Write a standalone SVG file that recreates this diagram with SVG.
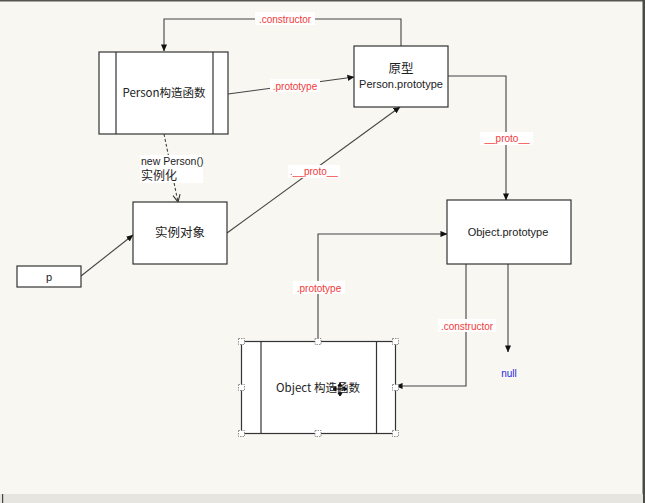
<svg xmlns="http://www.w3.org/2000/svg" width="645" height="503" viewBox="0 0 645 503">
  <defs>
    <marker id="arrow" viewBox="0 0 8 8" refX="7.5" refY="4" markerWidth="7" markerHeight="7" orient="auto" markerUnits="userSpaceOnUse">
      <path d="M0,0.5 L8,4 L0,7.5 Z" fill="#111"/>
    </marker>
    <marker id="openArrow" viewBox="0 0 10 10" refX="9" refY="5" markerWidth="9" markerHeight="9" orient="auto" markerUnits="userSpaceOnUse">
      <path d="M1,1 L9,5 L1,9" fill="none" stroke="#333" stroke-width="1.2"/>
    </marker>
  </defs>
  <style>
    .box { fill: #ffffff; stroke: #333333; stroke-width: 1.2; }
    .bar { stroke: #333333; stroke-width: 1.2; }
    .txt { font-family: "Liberation Sans", "Noto Sans CJK SC", sans-serif; font-size: 11px; fill: #222222; text-anchor: middle; }
    .cjk { font-family: "Noto Sans CJK SC", "Liberation Sans", sans-serif; font-size: 12px; fill: #222222; text-anchor: middle; }
    .lbl { font-family: "Liberation Sans", "Noto Sans CJK SC", sans-serif; font-size: 10px; fill: #f03a3a; text-anchor: middle; }
    .lblbg { fill: #ffffff; }
    .edge { fill: none; stroke: #444444; stroke-width: 1.1; }
    .handle { fill: #ffffff; stroke: #777777; stroke-width: 0.8; stroke-dasharray: 1.5 1; }
  </style>

  <!-- canvas and window frame -->
  <rect x="0" y="0" width="645" height="503" fill="#f8f7f2"/>
  <rect x="0" y="0" width="645" height="1.5" fill="#55574f"/>
  <rect x="642.5" y="0" width="2.5" height="503" fill="#4a4c46"/>
  <rect x="0" y="494" width="643" height="9" fill="#e6e5df"/>
  <rect x="2" y="494" width="1.2" height="9" fill="#444"/>

  <!-- connectors -->
  <g id="connectors">
    <!-- .constructor : prototype -> Person -->
    <path class="edge" d="M401,46 V19 H164 V51" marker-end="url(#arrow)"/>
    <!-- .prototype : Person -> prototype -->
    <path class="edge" d="M228,94 L354,77" marker-end="url(#arrow)"/>
    <!-- new Person() : Person -> instance (dashed) -->
    <path class="edge" d="M164,134 L178,202" stroke-dasharray="3 2" marker-end="url(#openArrow)"/>
    <!-- p -> instance -->
    <path class="edge" d="M81,276 L133,235" marker-end="url(#arrow)"/>
    <!-- __proto__ : instance -> prototype -->
    <path class="edge" d="M227,233 L400,107" marker-end="url(#arrow)"/>
    <!-- __proto__ : prototype -> Object.prototype -->
    <path class="edge" d="M448,76 H506 V200" marker-end="url(#arrow)"/>
    <!-- .prototype : Object ctor -> Object.prototype -->
    <path class="edge" d="M318,341 V234 H447" marker-end="url(#arrow)"/>
    <!-- .constructor : Object.prototype -> Object ctor -->
    <path class="edge" d="M466,264 V386 H396" marker-end="url(#arrow)"/>
    <!-- Object.prototype -> null -->
    <path class="edge" d="M508,264 V352" marker-end="url(#arrow)"/>

    <!-- labels -->
    <rect class="lblbg" x="255" y="12" width="60" height="13"/>
    <text class="lbl" x="285" y="22.5">.constructor</text>
    <rect class="lblbg" x="270" y="79" width="50" height="13"/>
    <text class="lbl" x="295" y="89.5">.prototype</text>
    <rect class="lblbg" x="140" y="155" width="63" height="28"/>
    <text class="txt" x="141" y="164.5" style="font-size:10.5px;text-anchor:start">new Person()</text>
    <text class="cjk" x="141" y="180" style="text-anchor:start">实例化</text>
    <rect class="lblbg" x="288" y="165" width="52" height="13"/>
    <text class="lbl" x="314" y="175">.__proto__</text>
    <rect class="lblbg" x="480" y="132" width="53" height="13"/>
    <text class="lbl" x="507" y="142">__proto__</text>
    <rect class="lblbg" x="293" y="281" width="52" height="13"/>
    <text class="lbl" x="319" y="291.5">.prototype</text>
    <rect class="lblbg" x="438" y="319" width="58" height="13"/>
    <text class="lbl" x="467" y="329.5">.constructor</text>
    <text class="lbl" x="509" y="377" style="fill:#2a2ae0">null</text>
  </g>

  <!-- Person constructor -->
  <g id="person-ctor">
    <rect class="box" x="99" y="52" width="129" height="82"/>
    <line class="bar" x1="116" y1="52" x2="116" y2="134"/>
    <line class="bar" x1="213" y1="52" x2="213" y2="134"/>
    <text class="cjk" x="164" y="97" style="font-size:11.5px">Person构造函数</text>
  </g>

  <!-- Person.prototype -->
  <g id="person-prototype">
    <rect class="box" x="354" y="46" width="94" height="61"/>
    <text class="cjk" x="401" y="73" style="font-size:12.5px">原型</text>
    <text class="txt" x="401" y="87.5">Person.prototype</text>
  </g>

  <!-- instance object -->
  <g id="instance">
    <rect class="box" x="133" y="202" width="94" height="62"/>
    <text class="cjk" x="180" y="237" style="font-size:12.5px">实例对象</text>
  </g>

  <!-- variable p -->
  <g id="var-p">
    <rect class="box" x="17" y="266" width="64" height="21"/>
    <text class="txt" x="49" y="280.5">p</text>
  </g>

  <!-- Object.prototype -->
  <g id="object-prototype">
    <rect class="box" x="447" y="200" width="124" height="64"/>
    <text class="txt" x="508" y="235.5">Object.prototype</text>
  </g>

  <!-- Object constructor (selected) -->
  <g id="object-ctor">
    <rect class="box" x="241.5" y="341.5" width="154" height="92"/>
    <line class="bar" x1="261" y1="341.5" x2="261" y2="433.5"/>
    <line class="bar" x1="376.5" y1="341.5" x2="376.5" y2="433.5"/>
    <text class="cjk" x="318" y="392" style="font-size:11.5px">Object 构造函数</text>
    <!-- selection handles -->
    <rect class="handle" x="238.5" y="338.5" width="6" height="6"/>
    <rect class="handle" x="315" y="338.5" width="6" height="6"/>
    <rect class="handle" x="392.5" y="338.5" width="6" height="6"/>
    <rect class="handle" x="238.5" y="384.5" width="6" height="6"/>
    <rect class="handle" x="392.5" y="384.5" width="6" height="6"/>
    <rect class="handle" x="238.5" y="430.5" width="6" height="6"/>
    <rect class="handle" x="315" y="430.5" width="6" height="6"/>
    <rect class="handle" x="392.5" y="430.5" width="6" height="6"/>
    <!-- move cursor -->
    <g fill="#111" stroke="#111" stroke-width="1">
      <line x1="334" y1="389" x2="346" y2="389"/>
      <line x1="340" y1="384" x2="340" y2="395"/>
      <path d="M333,389 L336,387 L336,391 Z"/>
      <path d="M347,389 L344,387 L344,391 Z"/>
      <path d="M340,396 L338,393 L342,393 Z"/>
      <path d="M340,383 L338,386 L342,386 Z"/>
    </g>
  </g>
</svg>
